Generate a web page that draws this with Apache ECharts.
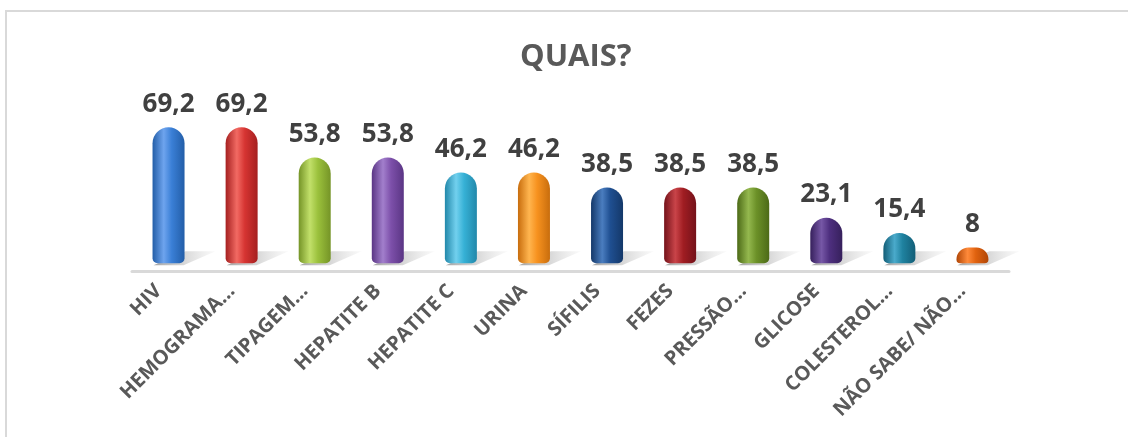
<!DOCTYPE html>
<html>
<head>
<meta charset="utf-8">
<script src="https://cdn.jsdelivr.net/npm/echarts@6/dist/echarts.min.js"></script>
<style>
html,body{margin:0;padding:0;background:#fff;}
#chart{width:1128px;height:437px;}
</style>
</head>
<body>
<div id="chart"></div>
<script>
const categories = ["HIV","HEMOGRAMA…","TIPAGEM…","HEPATITE B","HEPATITE C","URINA","SÍFILIS","FEZES","PRESSÃO…","GLICOSE","COLESTEROL…","NÃO SABE/ NÃO…"];
const values = [69.2,69.2,53.8,53.8,46.2,46.2,38.5,38.5,38.5,23.1,15.4,8];
const baseColors = ["#3a7fd6","#d63432","#9bc13c","#7d50aa","#36b1d6","#f7921f","#1f4f91","#a01d22","#6c9128","#4e2f7f","#1f82a0","#e0620f"];
const lightColors = ["#6ea4ee","#f26a63","#c2e06a","#a27fcc","#72d0ee","#ffb54f","#4a7dbf","#c94449","#94b84e","#7657a6","#4aaacb","#ff8a3a"];
const darkColors = ["#235ea8","#a52020","#759427","#5a3584","#2288aa","#c86d0d","#143869","#74121a","#4c6a17","#36205c","#135e77","#b04606"];

function grad(i){
  return new echarts.graphic.LinearGradient(0,0,1,0,[
    {offset:0,color:darkColors[i]},
    {offset:0.35,color:lightColors[i]},
    {offset:0.6,color:baseColors[i]},
    {offset:1,color:darkColors[i]}
  ]);
}

const chart = echarts.init(document.getElementById('chart'));
chart.setOption({
  animation:false,
  backgroundColor:'#fff',
  graphic:[{
    type:'rect',
    shape:{x:6,y:11,width:1140,height:440},
    style:{fill:'none',stroke:'#d9d9d9',lineWidth:2},
    silent:true
  }],
  title:{
    text:'QUAIS?',
    left:515,
    top:37,
    textStyle:{fontFamily:'Open Sans',fontWeight:'bold',fontSize:31,color:'#595959'}
  },
  grid:{left:132,right:119,top:114,bottom:166},
  xAxis:{
    type:'category',
    data:categories,
    axisTick:{show:false},
    axisLine:{onZero:false,lineStyle:{color:'#d9d9d9',width:3}},
    axisLabel:{
      rotate:45,
      interval:0,
      margin:7,
      padding:[0,14,0,0],
      fontFamily:'Open Sans',
      fontWeight:'bold',
      fontSize:20,
      color:'#595959'
    }
  },
  yAxis:{
    type:'value',
    min:-4,
    max:76,
    show:false,
    splitLine:{show:false}
  },
  series:[{
    type:'pictorialBar',
    data:values,
    symbol:'path://M0,14 L30,14 L62,0 L32,0 Z',
    symbolSize:[62,14],
    symbolPosition:'start',
    symbolOffset:[16,2],
    barGap:'-100%',
    z:1,
    silent:true,
    itemStyle:{
      color:new echarts.graphic.LinearGradient(0,0,1,0,[
        {offset:0,color:'rgba(90,90,90,0.55)'},
        {offset:1,color:'rgba(160,160,160,0.05)'}
      ])
    }
  },{
    type:'bar',
    barWidth:32,
    z:2,
    data:values.map((v,i)=>({value:v,itemStyle:{color:grad(i)}})),
    itemStyle:{borderRadius:[16,16,5,5]},
    label:{
      show:true,
      position:'top',
      distance:10,
      fontFamily:'Open Sans',
      fontWeight:'bold',
      fontSize:26,
      color:'#404040',
      formatter:p=>String(p.value).replace('.',',')
    }
  }]
});
</script>
</body>
</html>
